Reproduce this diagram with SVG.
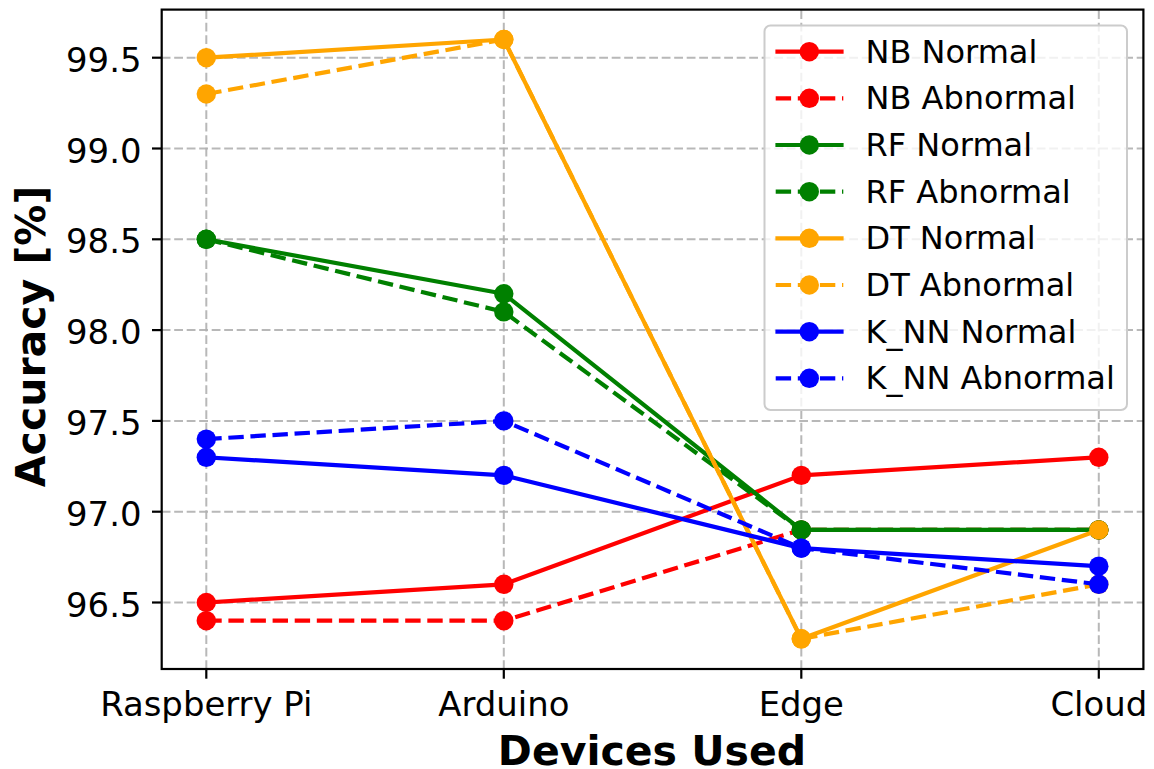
<svg xmlns="http://www.w3.org/2000/svg" width="1154" height="769" viewBox="0 0 1154 769">
<defs>
<style>
text{font-family:"DejaVu Sans","Liberation Sans",sans-serif;fill:#000}
.tick{font-size:33.9px}
.lab{font-size:41px;font-weight:bold}
.leg{font-size:32px}
.grid{stroke:#b0b0b0;stroke-opacity:0.9;stroke-width:2;stroke-dasharray:8.8 3.7;fill:none}
.ln{fill:none;stroke-width:4.2;stroke-linejoin:round;stroke-linecap:square}
.dash{stroke-dasharray:15.4 6.7;stroke-linecap:butt}
.r{stroke:#ff0000}.rf{fill:#ff0000}
.g{stroke:#008000}.gf{fill:#008000}
.o{stroke:#ffa500}.of{fill:#ffa500}
.b{stroke:#0000ff}.bf{fill:#0000ff}
.tk{stroke:#000;stroke-width:2.2}
</style>
</defs>
<rect width="1154" height="769" fill="#fff"/>
<g id="grid">
<line class="grid" x1="206.3" y1="669" x2="206.3" y2="9.6"/>
<line class="grid" x1="503.8" y1="669" x2="503.8" y2="9.6"/>
<line class="grid" x1="801.3" y1="669" x2="801.3" y2="9.6"/>
<line class="grid" x1="1098.8" y1="669" x2="1098.8" y2="9.6"/>
<line class="grid" x1="161.7" y1="602.5" x2="1143.4" y2="602.5"/>
<line class="grid" x1="161.7" y1="511.7" x2="1143.4" y2="511.7"/>
<line class="grid" x1="161.7" y1="420.9" x2="1143.4" y2="420.9"/>
<line class="grid" x1="161.7" y1="330.1" x2="1143.4" y2="330.1"/>
<line class="grid" x1="161.7" y1="239.3" x2="1143.4" y2="239.3"/>
<line class="grid" x1="161.7" y1="148.5" x2="1143.4" y2="148.5"/>
<line class="grid" x1="161.7" y1="57.7" x2="1143.4" y2="57.7"/>
</g>
<g id="connectors">
<g id="nb-normal">
<polyline class="ln r" points="206.3,602.5 503.8,584.3 801.3,475.4 1098.8,457.3"/>
<g class="rf"><circle cx="206.3" cy="602.5" r="9.7"/><circle cx="503.8" cy="584.3" r="9.7"/><circle cx="801.3" cy="475.4" r="9.7"/><circle cx="1098.8" cy="457.3" r="9.7"/></g>
</g>
<g id="nb-abnormal">
<polyline class="ln dash r" points="206.3,620.7 503.8,620.7 801.3,529.9 1098.8,529.9"/>
<g class="rf"><circle cx="206.3" cy="620.7" r="9.7"/><circle cx="503.8" cy="620.7" r="9.7"/><circle cx="801.3" cy="529.9" r="9.7"/><circle cx="1098.8" cy="529.9" r="9.7"/></g>
</g>
<g id="rf-normal">
<polyline class="ln g" points="206.3,239.3 503.8,293.8 801.3,529.9 1098.8,529.9"/>
<g class="gf"><circle cx="206.3" cy="239.3" r="9.7"/><circle cx="503.8" cy="293.8" r="9.7"/><circle cx="801.3" cy="529.9" r="9.7"/><circle cx="1098.8" cy="529.9" r="9.7"/></g>
</g>
<g id="rf-abnormal">
<polyline class="ln dash g" points="206.3,239.3 503.8,311.9 801.3,529.9 1098.8,529.9"/>
<g class="gf"><circle cx="206.3" cy="239.3" r="9.7"/><circle cx="503.8" cy="311.9" r="9.7"/><circle cx="801.3" cy="529.9" r="9.7"/><circle cx="1098.8" cy="529.9" r="9.7"/></g>
</g>
<g id="dt-normal">
<polyline class="ln o" points="206.3,57.7 503.8,39.5 801.3,638.8 1098.8,529.9"/>
<g class="of"><circle cx="206.3" cy="57.7" r="9.7"/><circle cx="503.8" cy="39.5" r="9.7"/><circle cx="801.3" cy="638.8" r="9.7"/><circle cx="1098.8" cy="529.9" r="9.7"/></g>
</g>
<g id="dt-abnormal">
<polyline class="ln dash o" points="206.3,94 503.8,39.5 801.3,638.8 1098.8,584.3"/>
<g class="of"><circle cx="206.3" cy="94" r="9.7"/><circle cx="503.8" cy="39.5" r="9.7"/><circle cx="801.3" cy="638.8" r="9.7"/><circle cx="1098.8" cy="584.3" r="9.7"/></g>
</g>
<g id="knn-normal">
<polyline class="ln b" points="206.3,457.3 503.8,475.4 801.3,548.1 1098.8,566.2"/>
<g class="bf"><circle cx="206.3" cy="457.3" r="9.7"/><circle cx="503.8" cy="475.4" r="9.7"/><circle cx="801.3" cy="548.1" r="9.7"/><circle cx="1098.8" cy="566.2" r="9.7"/></g>
</g>
<g id="knn-abnormal">
<polyline class="ln dash b" points="206.3,439.1 503.8,420.9 801.3,548.1 1098.8,584.3"/>
<g class="bf"><circle cx="206.3" cy="439.1" r="9.7"/><circle cx="503.8" cy="420.9" r="9.7"/><circle cx="801.3" cy="548.1" r="9.7"/><circle cx="1098.8" cy="584.3" r="9.7"/></g>
</g>
</g>
<g id="axes">
<rect x="161.7" y="9.6" width="981.7" height="659.4" fill="none" stroke="#000" stroke-width="2.2"/>
<line class="tk" x1="206.3" y1="669" x2="206.3" y2="678.7"/>
<line class="tk" x1="503.8" y1="669" x2="503.8" y2="678.7"/>
<line class="tk" x1="801.3" y1="669" x2="801.3" y2="678.7"/>
<line class="tk" x1="1098.8" y1="669" x2="1098.8" y2="678.7"/>
<line class="tk" x1="152" y1="602.5" x2="161.7" y2="602.5"/>
<line class="tk" x1="152" y1="511.7" x2="161.7" y2="511.7"/>
<line class="tk" x1="152" y1="420.9" x2="161.7" y2="420.9"/>
<line class="tk" x1="152" y1="330.1" x2="161.7" y2="330.1"/>
<line class="tk" x1="152" y1="239.3" x2="161.7" y2="239.3"/>
<line class="tk" x1="152" y1="148.5" x2="161.7" y2="148.5"/>
<line class="tk" x1="152" y1="57.7" x2="161.7" y2="57.7"/>
<g class="tick" text-anchor="end">
<text x="141.5" y="616.5">96.5</text>
<text x="141.5" y="525.7">97.0</text>
<text x="141.5" y="434.9">97.5</text>
<text x="141.5" y="344.1">98.0</text>
<text x="141.5" y="253.3">98.5</text>
<text x="141.5" y="162.5">99.0</text>
<text x="141.5" y="71.7">99.5</text>
</g>
<g class="tick" text-anchor="middle">
<text x="206.3" y="715.5">Raspberry Pi</text>
<text x="503.8" y="715.5">Arduino</text>
<text x="801.3" y="715.5">Edge</text>
<text x="1098.8" y="715.5">Cloud</text>
</g>
<text class="lab" x="652" y="765" text-anchor="middle">Devices Used</text>
<text class="lab" transform="translate(44.5,336.5) rotate(-90)" text-anchor="middle">Accuracy [%]</text>
</g>
<g id="legend">
<rect x="764.5" y="25.5" width="362.5" height="384.5" rx="6" fill="#fff" fill-opacity="0.8" stroke="#cccccc" stroke-width="2"/>
<line class="ln r" x1="777.5" y1="51.7" x2="841.5" y2="51.7"/><circle class="rf" cx="809.3" cy="51.7" r="9.7"/>
<line class="ln dash r" x1="775.7" y1="98.3" x2="843.3" y2="98.3"/><circle class="rf" cx="809.3" cy="98.3" r="9.7"/>
<line class="ln g" x1="777.5" y1="145" x2="841.5" y2="145"/><circle class="gf" cx="809.3" cy="145" r="9.7"/>
<line class="ln dash g" x1="775.7" y1="191.7" x2="843.3" y2="191.7"/><circle class="gf" cx="809.3" cy="191.7" r="9.7"/>
<line class="ln o" x1="777.5" y1="238.3" x2="841.5" y2="238.3"/><circle class="of" cx="809.3" cy="238.3" r="9.7"/>
<line class="ln dash o" x1="775.7" y1="285" x2="843.3" y2="285"/><circle class="of" cx="809.3" cy="285" r="9.7"/>
<line class="ln b" x1="777.5" y1="331.7" x2="841.5" y2="331.7"/><circle class="bf" cx="809.3" cy="331.7" r="9.7"/>
<line class="ln dash b" x1="775.7" y1="378.3" x2="843.3" y2="378.3"/><circle class="bf" cx="809.3" cy="378.3" r="9.7"/>
<g class="leg">
<text x="865.5" y="62.7">NB Normal</text>
<text x="865.5" y="109.3">NB Abnormal</text>
<text x="865.5" y="156">RF Normal</text>
<text x="865.5" y="202.7">RF Abnormal</text>
<text x="865.5" y="249.3">DT Normal</text>
<text x="865.5" y="296">DT Abnormal</text>
<text x="865.5" y="342.7">K_NN Normal</text>
<text x="865.5" y="389.3">K_NN Abnormal</text>
</g>
</g>
</svg>
